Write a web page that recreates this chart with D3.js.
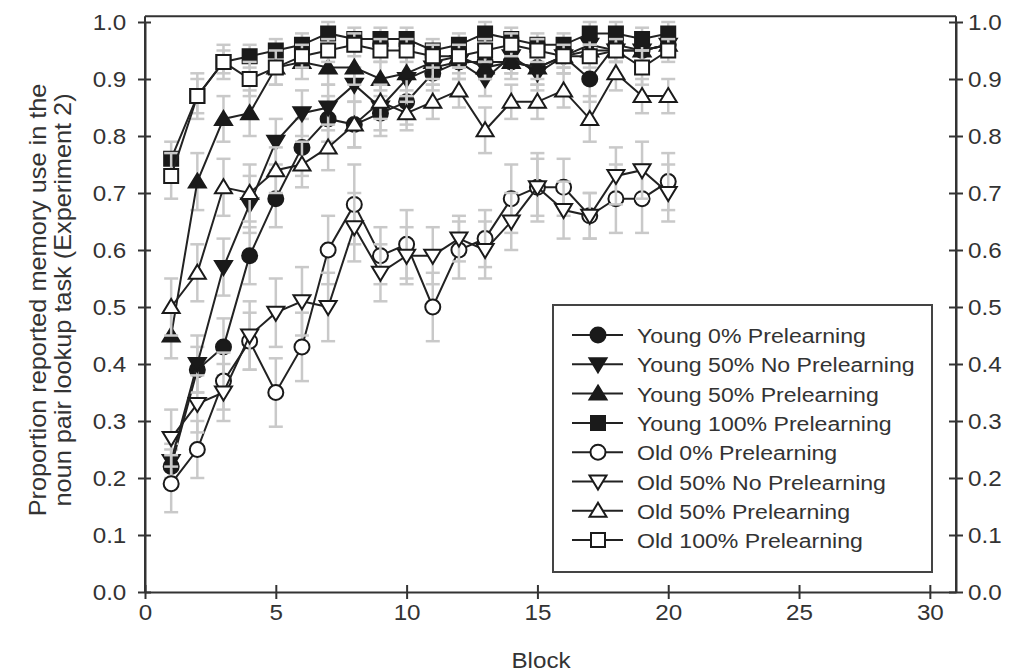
<!DOCTYPE html>
<html>
<head>
<meta charset="utf-8">
<script src="https://cdn.jsdelivr.net/npm/d3@7"></script>
<style>
  body { margin: 0; background: #fff; }
  svg text { font-family: "Liberation Sans", Arial, sans-serif; fill: #333; }
</style>
</head>
<body>
<div id="chart"></div>
<script>
// memory use chart, blocks 1-20, eight groups

var blocks = [1, 2, 3, 4, 5, 6, 7, 8, 9, 10, 11, 12, 13, 14, 15, 16, 17, 18, 19, 20];

var seriesNames = ["Young 0% Prelearning", "Young 50% No Prelearning", "Young 50% Prelearning",
  "Young 100% Prelearning", "Old 0% Prelearning", "Old 50% No Prelearning",
  "Old 50% Prelearning", "Old 100% Prelearning"];

// mean proportions
var young0 = [0.22, 0.39, 0.43, 0.59, 0.69, 0.78, 0.83, 0.82, 0.84, 0.86, 0.91, 0.93, 0.93, 0.93, 0.92, 0.94, 0.90, 0.96, 0.95, 0.96];
var young50no = [0.23, 0.40, 0.57, 0.68, 0.79, 0.84, 0.85, 0.89, 0.85, 0.90, 0.92, 0.93, 0.90, 0.94, 0.91, 0.94, 0.96, 0.95, 0.95, 0.96];
var young50 = [0.45, 0.72, 0.83, 0.84, 0.92, 0.93, 0.92, 0.92, 0.90, 0.91, 0.93, 0.94, 0.92, 0.93, 0.92, 0.94, 0.95, 0.95, 0.95, 0.96];
var young100 = [0.76, 0.87, 0.93, 0.94, 0.95, 0.96, 0.98, 0.97, 0.97, 0.97, 0.95, 0.96, 0.98, 0.97, 0.96, 0.96, 0.98, 0.98, 0.97, 0.98];
var old0 = [0.19, 0.25, 0.37, 0.44, 0.35, 0.43, 0.60, 0.68, 0.59, 0.61, 0.50, 0.60, 0.62, 0.69, 0.71, 0.71, 0.66, 0.69, 0.69, 0.72];
var old50no = [0.27, 0.33, 0.35, 0.45, 0.49, 0.51, 0.50, 0.64, 0.56, 0.59, 0.59, 0.62, 0.60, 0.65, 0.71, 0.67, 0.66, 0.73, 0.74, 0.70];
var old50 = [0.50, 0.56, 0.71, 0.70, 0.74, 0.75, 0.78, 0.82, 0.86, 0.84, 0.86, 0.88, 0.81, 0.86, 0.86, 0.88, 0.83, 0.91, 0.87, 0.87];
var old100 = [0.73, 0.87, 0.93, 0.90, 0.92, 0.94, 0.95, 0.96, 0.95, 0.95, 0.94, 0.94, 0.95, 0.96, 0.95, 0.94, 0.94, 0.95, 0.92, 0.95];

// error bar half lengths (estimated)
var errYoung0 = [0.03, 0.04, 0.05, 0.05, 0.05, 0.05, 0.04, 0.04, 0.04, 0.04, 0.03, 0.03, 0.03, 0.03, 0.03, 0.03, 0.04, 0.02, 0.02, 0.02];
var errYoung50no = [0.03, 0.05, 0.05, 0.05, 0.04, 0.04, 0.04, 0.03, 0.04, 0.04, 0.03, 0.03, 0.03, 0.03, 0.03, 0.03, 0.02, 0.02, 0.02, 0.02];
var errYoung50 = [0.04, 0.05, 0.04, 0.04, 0.03, 0.03, 0.03, 0.03, 0.03, 0.03, 0.03, 0.02, 0.02, 0.02, 0.02, 0.02, 0.02, 0.02, 0.02, 0.02];
var errYoung100 = [0.03, 0.03, 0.02, 0.02, 0.02, 0.02, 0.02, 0.02, 0.02, 0.02, 0.02, 0.02, 0.02, 0.02, 0.02, 0.02, 0.02, 0.02, 0.02, 0.02];
var errOld0 = [0.05, 0.05, 0.05, 0.05, 0.06, 0.06, 0.06, 0.07, 0.05, 0.06, 0.06, 0.05, 0.05, 0.06, 0.06, 0.05, 0.04, 0.06, 0.06, 0.05];
var errOld50no = [0.05, 0.05, 0.05, 0.06, 0.06, 0.06, 0.06, 0.06, 0.05, 0.05, 0.05, 0.04, 0.05, 0.05, 0.05, 0.05, 0.04, 0.05, 0.05, 0.05];
var errOld50 = [0.05, 0.05, 0.05, 0.05, 0.04, 0.04, 0.04, 0.04, 0.03, 0.03, 0.03, 0.03, 0.04, 0.03, 0.03, 0.03, 0.04, 0.03, 0.03, 0.03];
var errOld100 = [0.04, 0.04, 0.03, 0.03, 0.03, 0.02, 0.02, 0.02, 0.02, 0.02, 0.02, 0.02, 0.02, 0.02, 0.02, 0.02, 0.02, 0.02, 0.03, 0.02];

var xTicks = [0, 5, 10, 15, 20, 25, 30];
var yTicks = [0, 0.1, 0.2, 0.3, 0.4, 0.5, 0.6, 0.7, 0.8, 0.9, 1.0];

var allMeans = [young0, young50no, young50, young100, old0, old50no, old50, old100];
var allErrs = [errYoung0, errYoung50no, errYoung50, errYoung100, errOld0, errOld50no, errOld50, errOld100];
var shapes = ["circle", "down", "up", "square", "circle", "down", "up", "square"];
var filled = [true, true, true, true, false, false, false, false];

var width = 1013, height = 672;
var stretch = 1.1;

var x = d3.scaleLinear().domain([0, 31]).range([145, 956]);
var y = d3.scaleLinear().domain([0, 1]).range([592, 22]);

var svg = d3.select("#chart").append("svg")
    .attr("width", width)
    .attr("height", height);

function markerPath(shape) {
    if (shape == "circle") {
        return d3.arc()({innerRadius: 0, outerRadius: 7.5, startAngle: 0, endAngle: 2 * Math.PI});
    }
    if (shape == "square") {
        return "M-7,-7L7,-7L7,7L-7,7Z";
    }
    if (shape == "up") {
        return "M0,-8L8.5,6L-8.5,6Z";
    }
    return "M0,8L8.5,-6L-8.5,-6Z";
}

// one group per series: error bars, line, markers
allMeans.forEach(function(means, s) {
    var rows = blocks.map(function(b, i) {
        return {block: b, value: means[i], err: allErrs[s][i]};
    });
    var g = svg.append("g").attr("class", "series");

    var bars = g.selectAll(".err").data(rows).enter().append("g")
        .style("stroke", "#c9c9c9")
        .style("stroke-width", 2.5);
    bars.append("line")
        .attr("x1", function(d) { return x(d.block); })
        .attr("x2", function(d) { return x(d.block); })
        .attr("y1", function(d) { return y(d.value - d.err); })
        .attr("y2", function(d) { return y(d.value + d.err); });
    [-1, 1].forEach(function(sign) {
        bars.append("line")
            .attr("x1", function(d) { return x(d.block) - 7; })
            .attr("x2", function(d) { return x(d.block) + 7; })
            .attr("y1", function(d) { return y(d.value + sign * d.err); })
            .attr("y2", function(d) { return y(d.value + sign * d.err); });
    });

    g.append("path")
        .datum(rows)
        .attr("fill", "none")
        .attr("stroke", "#222")
        .attr("stroke-width", 2)
        .attr("d", d3.line()
            .x(function(d) { return x(d.block); })
            .y(function(d) { return y(d.value); }));

    g.selectAll(".mark").data(rows).enter().append("path")
        .attr("transform", function(d) { return "translate(" + x(d.block) + "," + y(d.value) + ")"; })
        .attr("d", markerPath(shapes[s]))
        .attr("fill", filled[s] ? "#1a1a1a" : "#fff")
        .attr("stroke", "#1a1a1a")
        .attr("stroke-width", 2);
});

// axes
var axisStyle = function(g) {
    g.select(".domain").attr("stroke", "#333").attr("stroke-width", 2);
    g.selectAll(".tick line").attr("stroke", "#333").attr("stroke-width", 2);
    g.selectAll(".tick text")
        .style("font-size", "22px")
        .attr("fill", "#333");
};

var left = svg.append("g")
    .attr("transform", "translate(" + x(0) + ",0)")
    .call(d3.axisLeft(y).tickValues(yTicks).tickFormat(d3.format(".1f"))
        .tickSizeInner(7).tickSizeOuter(0).tickPadding(10))
    .call(axisStyle);
left.selectAll(".tick line").attr("x1", 6);
left.selectAll(".tick text").attr("transform", "scale(" + stretch + ",1)");

var right = svg.append("g")
    .attr("transform", "translate(" + x(31) + ",0)")
    .call(d3.axisRight(y).tickValues(yTicks).tickFormat(d3.format(".1f"))
        .tickSizeInner(7).tickSizeOuter(0).tickPadding(4))
    .call(axisStyle);
right.selectAll(".tick line").attr("x1", -7);
right.selectAll(".tick text").attr("transform", "scale(" + stretch + ",1)");

var bottom = svg.append("g")
    .attr("transform", "translate(0," + y(0) + ")")
    .call(d3.axisBottom(x).tickValues(xTicks).tickFormat(d3.format("d"))
        .tickSizeInner(7).tickSizeOuter(0).tickPadding(5))
    .call(axisStyle);
bottom.selectAll(".tick line").attr("y1", -7);
bottom.selectAll(".tick text").attr("transform", "scale(" + stretch + ",1)");

// frame lines
svg.append("line")
    .attr("x1", x(0)).attr("x2", x(31))
    .attr("y1", y(1.01)).attr("y2", y(1.01))
    .attr("stroke", "#333").attr("stroke-width", 2);
svg.append("line")
    .attr("x1", x(0)).attr("x2", x(0))
    .attr("y1", y(1.01)).attr("y2", y(0))
    .attr("stroke", "#333").attr("stroke-width", 2);
svg.append("line")
    .attr("x1", x(31)).attr("x2", x(31))
    .attr("y1", y(1.01)).attr("y2", y(0))
    .attr("stroke", "#333").attr("stroke-width", 2);

// axis titles
svg.append("text")
    .attr("transform", "translate(541,668) scale(" + stretch + ",1)")
    .attr("text-anchor", "middle")
    .style("font-size", "22px")
    .text("Block");

var yTitle = ["Proportion reported memory use in the", "noun pair lookup task (Experiment 2)"];
yTitle.forEach(function(t, i) {
    svg.append("text")
        .attr("transform", "translate(" + (46 + i * 25) + ",300) rotate(-90) scale(" + stretch + ",1)")
        .attr("text-anchor", "middle")
        .style("font-size", "23px")
        .text(t);
});

// legend
var legend = svg.append("g").attr("class", "legend");
legend.append("rect")
    .attr("x", 553).attr("y", 305)
    .attr("width", 379).attr("height", 267)
    .attr("fill", "#fff")
    .attr("stroke", "#444")
    .attr("stroke-width", 2);

seriesNames.forEach(function(name, i) {
    var ly = 335 + i * 29.3;
    var row = legend.append("g");
    row.append("line")
        .attr("x1", 572).attr("x2", 623)
        .attr("y1", ly).attr("y2", ly)
        .attr("stroke", "#222").attr("stroke-width", 2);
    row.append("path")
        .attr("transform", "translate(598," + ly + ")")
        .attr("d", markerPath(shapes[i]))
        .attr("fill", filled[i] ? "#1a1a1a" : "#fff")
        .attr("stroke", "#1a1a1a")
        .attr("stroke-width", 2);
    row.append("text")
        .attr("transform", "translate(637," + (ly + 8) + ") scale(" + stretch + ",1)")
        .style("font-size", "21px")
        .text(name);
});
</script>
</body>
</html>
